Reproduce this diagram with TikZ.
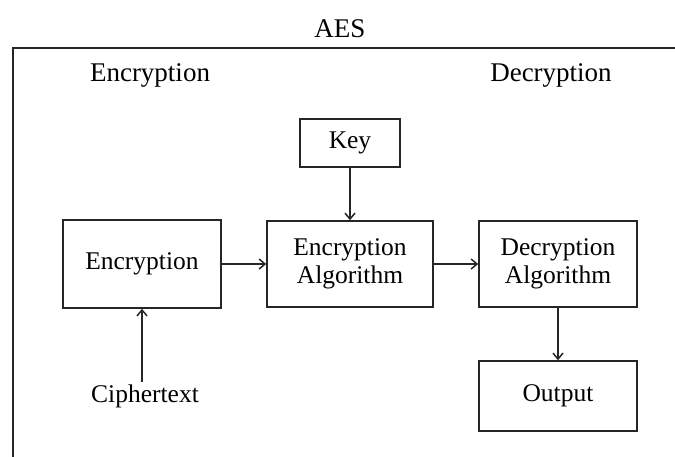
\documentclass[tikz,border=0pt]{standalone}
\usepackage{fontspec}
\setmainfont{Liberation Serif}
\usetikzlibrary{arrows.meta}
\tikzset{
  block/.style={draw=black!85, line width=1.5pt, rectangle, inner sep=0pt,
    align=center, font=\fontsize{25.5}{28.5}\selectfont},
  plain/.style={inner sep=0pt, align=center, font=\fontsize{25.5}{28.5}\selectfont},
  heading/.style={inner sep=0pt, font=\fontsize{27}{30}\selectfont},
  flow/.style={draw=black!85, line width=1.5pt, -{Straight Barb[length=6pt,width=10pt,line width=1.5pt]}},
}
\begin{document}
\begin{tikzpicture}[x=1pt,y=-1pt]
  \useasboundingbox (0,0) rectangle (675,456);
  \begin{scope}
    \clip (0,0) rectangle (675,456);
    % outer frame, open to the right and bottom
    \draw[draw=black!85, line width=1.5pt] (13,470) -- (13,48) -- (690,48);
  \end{scope}

  \node[heading] (title) at (340,29) {AES};
  \node[heading] (enclabel) at (150,75) {Encryption};
  \node[heading] (declabel) at (551,75) {Decryption};

  \node[block, minimum width=100pt, minimum height=48pt] (key) at (350,143) {Key};
  \node[block, minimum width=166pt, minimum height=86pt] (encalg) at (350,264) {Encryption\\Algorithm};
  \node[block, minimum width=158pt, minimum height=86pt] (decalg) at (558,264) {Decryption\\Algorithm};
  \node[block, minimum width=158pt, minimum height=70pt] (output) at (558,396) {Output};
  \node[block, minimum width=158pt, minimum height=88pt] (enc) at (142,264) {\raisebox{5pt}{Encryption}};
  \node[plain] (cipher) at (145,396) {Ciphertext};

  \draw[flow] (key) -- (encalg);
  \draw[flow] (enc) -- (encalg);
  \draw[flow] (encalg) -- (decalg);
  \draw[flow] (decalg) -- (output);
  \draw[flow] (cipher.north -| enc) ++(0,-2) -- (enc.south);
\end{tikzpicture}
\end{document}
